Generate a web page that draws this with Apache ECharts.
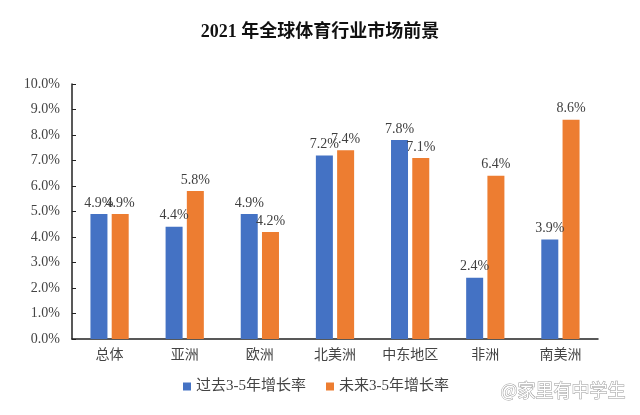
<!DOCTYPE html>
<html><head><meta charset="utf-8">
<script src="https://cdn.jsdelivr.net/npm/echarts@6/dist/echarts.min.js"></script>
<style>html,body{margin:0;padding:0;background:#fff}#c{width:640px;height:415px}</style>
</head><body><div id="c"></div>
<script>
const titleText = '2021 年全球体育行业市场前景';
const categories = ['总体','亚洲','欧洲','北美洲','中东地区','非洲','南美洲'];
const seriesNames = ['过去3-5年增长率','未来3-5年增长率'];
const pastRate = [4.9, 4.4, 4.9, 7.2, 7.8, 2.4, 3.9];
const futureRate = [4.9, 5.8, 4.2, 7.4, 7.1, 6.4, 8.6];
const watermark = '@家里有中学生';

const FONT = '"Liberation Serif","Noto Sans CJK SC",serif';
const chart = echarts.init(document.getElementById('c'));
const lbl = {show:true, position:'top', distance:4, fontFamily:FONT, fontSize:14, color:'#404040', formatter: p => p.value.toFixed(1) + '%'};
chart.setOption({
  animation:false,
  backgroundColor:'#fff',
  title:{text:titleText, left:'center', top:18, textStyle:{fontFamily:FONT, fontSize:18, fontWeight:'bold', color:'#111'}},
  grid:{left:72, right:42, top:84, bottom:76},
  legend:{bottom:16, left:178, itemWidth:8, itemHeight:8, itemGap:20, icon:'rect',
    textStyle:{fontFamily:FONT, fontSize:15, color:'#444'}, data:seriesNames},
  xAxis:{type:'category', data:categories,
    axisLine:{lineStyle:{color:'#222', width:1.5}}, axisTick:{show:false},
    axisLabel:{fontFamily:FONT, fontSize:14, color:'#444', margin:9}},
  yAxis:{type:'value', min:0, max:10, interval:1,
    axisLine:{show:true, lineStyle:{color:'#222', width:1.5}},
    axisTick:{show:true, inside:true, length:4, lineStyle:{color:'#222'}},
    splitLine:{show:false},
    axisLabel:{fontFamily:FONT, fontSize:14, color:'#444', margin:12, formatter: v => v.toFixed(1) + '%'}},
  series:[
    {name:seriesNames[0], type:'bar', data:pastRate, barWidth:17, barGap:'25%', itemStyle:{color:'#4472C4'}, label:lbl},
    {name:seriesNames[1], type:'bar', data:futureRate, barWidth:17, itemStyle:{color:'#ED7D31'}, label:lbl}
  ],
  graphic:[{type:'text', right:14, bottom:15, style:{text:watermark, font:'18px "Noto Sans CJK SC"', fill:'#fff', stroke:'#999', lineWidth:1}}]
});
</script></body></html>
